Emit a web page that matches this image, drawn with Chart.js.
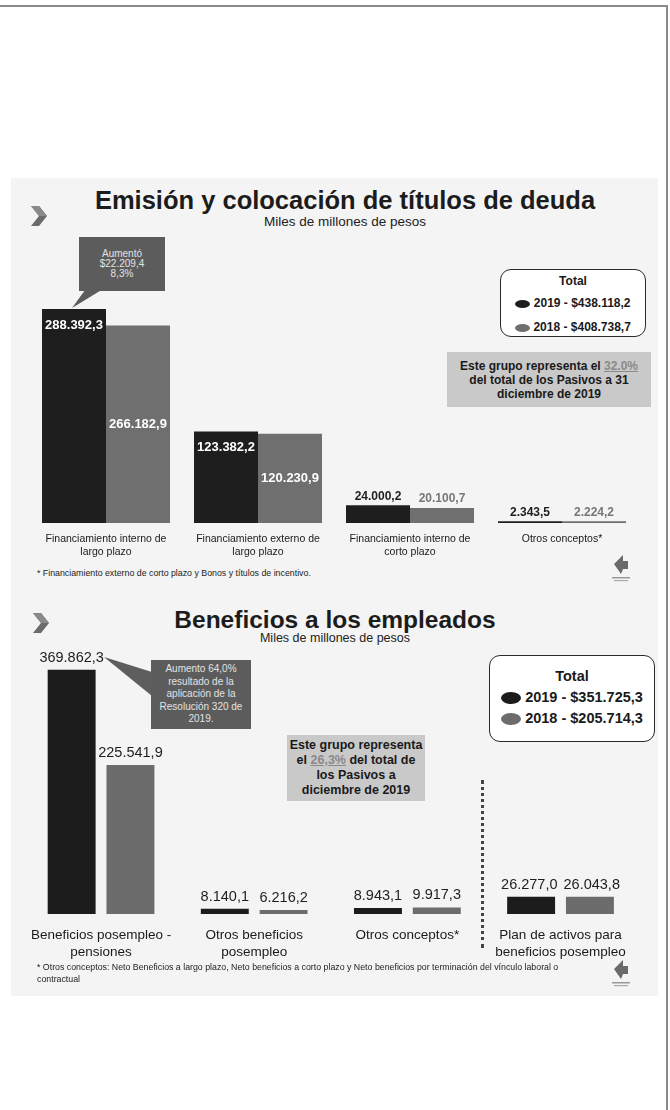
<!DOCTYPE html>
<html><head><meta charset="utf-8">
<script src="https://cdn.jsdelivr.net/npm/chart.js@4.4.1/dist/chart.umd.min.js"></script>
<style>
body{margin:0;width:670px;height:1110px;background:#fff;position:relative;overflow:hidden;font-family:"Liberation Sans",Arial,sans-serif;color:#1a1a1a}
.abs{position:absolute}
.frameTop{left:0;top:5px;width:668px;height:2px;background:#8a8a8a}
.frameRight{left:666px;top:5px;width:2px;height:1105px;background:#8a8a8a}
.slide{left:11px;top:178px;width:647px;height:818px;background:#f4f4f4}
.title{left:0;width:670px;text-align:center;font-weight:bold;font-size:25.5px;color:#1c1c1c;line-height:28px}
.sub{left:0;width:670px;text-align:center;font-size:13.5px;color:#222;line-height:16px}
.callout{background:#5c5c5c;color:#e2e2e2;text-align:center;font-size:10px;line-height:10px;display:flex;flex-direction:column;justify-content:center}
.legend{border:1.5px solid #2a2a2a;border-radius:11px;background:#fff;font-weight:bold;color:#1a1a1a}
.legend .row{position:absolute;left:0;width:100%;text-align:center;white-space:nowrap}
.sw{display:inline-block;vertical-align:middle;border-radius:50%/50%}
.gbox{background:#c9c9c9;font-weight:bold;text-align:center;color:#1a1a1a;display:flex;flex-direction:column;justify-content:center}
.pct{color:#8a8a8a;text-decoration:underline}
.foot{font-size:8.8px;color:#222;line-height:12px;white-space:nowrap}
</style></head>
<body>
<div class="abs frameTop"></div>
<div class="abs frameRight"></div>
<div class="abs slide"></div>

<!-- chart 1 decorations -->
<svg class="abs" style="left:30px;top:205px" width="20" height="22"><polygon points="1,1 9,1 17,11 9,21 1,21 9,11" fill="#6a6a6a"/><polygon points="1,1 9,1 17,11 9,11" fill="#8a8a8a"/></svg>
<div class="abs title" style="top:186px;left:10px">Emisión y colocación de títulos de deuda</div>
<div class="abs sub" style="top:214px;left:10px">Miles de millones de pesos</div>
<svg class="abs" style="left:60px;top:286px" width="60" height="26"><polygon points="28,0 48,0 12,22" fill="#5c5c5c"/></svg>
<div class="abs callout" style="left:79px;top:237px;width:86px;height:54px">Aumentó<br>$22.209,4<br>8,3%</div>
<div class="abs legend" style="left:500px;top:269px;width:144px;height:66px;font-size:12px">
  <div class="row" style="top:4px">Total</div>
  <div class="row" style="top:26px"><span class="sw" style="width:15px;height:8px;background:#1e1e1e"></span> 2019 - $438.118,2</div>
  <div class="row" style="top:50px"><span class="sw" style="width:15px;height:8px;background:#6f6f6f"></span> 2018 - $408.738,7</div>
</div>
<div class="abs gbox" style="left:447px;top:352px;width:204px;height:55px;font-size:12px;line-height:14px">
  <div>Este grupo representa el <span class="pct">32.0%</span><br>del total de los Pasivos a 31<br>diciembre de 2019</div>
</div>
<div class="abs" style="left:30px;top:290px;width:608px;height:267px"><canvas id="c1" width="608" height="267"></canvas></div>
<div class="abs foot" style="left:37px;top:567px">* Financiamiento externo de corto plazo y Bonos y títulos de incentivo.</div>
<svg class="abs" style="left:608px;top:553px" width="26" height="32"><polygon points="6,11 15,2 15,8 20,8 20,16 15,16 13,21" fill="#6a6a6a"/><rect x="4" y="24" width="18" height="1.5" fill="#999"/><rect x="6" y="27" width="14" height="1.2" fill="#aaa"/></svg>

<!-- chart 2 decorations -->
<svg class="abs" style="left:32px;top:612px" width="20" height="22"><polygon points="1,1 9,1 17,11 9,21 1,21 9,11" fill="#6a6a6a"/><polygon points="1,1 9,1 17,11 9,11" fill="#8a8a8a"/></svg>
<div class="abs title" style="top:606px;font-size:24.5px">Beneficios a los empleados</div>
<div class="abs sub" style="top:630px;font-size:12.5px">Miles de millones de pesos</div>
<svg class="abs" style="left:100px;top:652px" width="60" height="50"><polygon points="52,20 52,44 4,5" fill="#5e5e5e"/></svg>
<div class="abs callout" style="left:151px;top:660px;width:100px;height:69px;line-height:12.5px">Aumento 64,0%<br>resultado de la<br>aplicación de la<br>Resolución 320 de<br>2019.</div>
<div class="abs legend" style="left:489px;top:655px;width:164px;height:85px;font-size:14.5px">
  <div class="row" style="top:12px">Total</div>
  <div class="row" style="top:33px"><span class="sw" style="width:20px;height:12px;background:#1c1c1c"></span>&nbsp;2019 - $351.725,3</div>
  <div class="row" style="top:54px"><span class="sw" style="width:20px;height:12px;background:#6c6c6c"></span>&nbsp;2018 - $205.714,3</div>
</div>
<div class="abs gbox" style="left:287px;top:735px;width:138px;height:66px;font-size:12.5px;line-height:15px">
  <div>Este grupo representa<br>el <span class="pct">26,3%</span> del total de<br>los Pasivos a<br>diciembre de 2019</div>
</div>
<div class="abs" style="left:481px;top:780px;width:0;height:168px;border-left:3px dotted #444"></div>
<div class="abs" style="left:18px;top:640px;width:620px;height:324px"><canvas id="c2" width="620" height="324"></canvas></div>
<div class="abs foot" style="left:37px;top:961px">* Otros conceptos: Neto Beneficios a largo plazo, Neto beneficios a corto plazo y Neto beneficios por terminación del vínculo laboral o<br>contractual</div>
<svg class="abs" style="left:608px;top:958px" width="26" height="32"><polygon points="6,11 15,2 15,8 20,8 20,16 15,16 13,21" fill="#6a6a6a"/><rect x="4" y="24" width="18" height="1.5" fill="#999"/><rect x="6" y="27" width="14" height="1.2" fill="#aaa"/></svg>

<script>
// ---- data: chart 1 ----
const debtCategories = [
  ["Financiamiento interno de", "largo plazo"],
  ["Financiamiento externo de", "largo plazo"],
  ["Financiamiento interno de", "corto plazo"],
  ["Otros conceptos*"]
];
const debt2019 = [288392.3, 123382.2, 24000.2, 2343.5];
const debt2018 = [266182.9, 120230.9, 20100.7, 2224.2];

// ---- data: chart 2 ----
const empCategories = [
  ["Beneficios posempleo -", "pensiones"],
  ["Otros beneficios", "posempleo"],
  ["Otros conceptos*"],
  ["Plan de activos para", "beneficios posempleo"]
];
const emp2019 = [369862.3, 8140.1, 8943.1, 26277.0];
const emp2018 = [225541.9, 6216.2, 9917.3, 26043.8];

const seriesNames = ["2019", "2018"];

function fmt(v){
  const s = v.toFixed(1).split('.');
  return s[0].replace(/\B(?=(\d{3})+(?!\d))/g, '.') + ',' + s[1];
}
const FONT = '"Liberation Sans", Arial, sans-serif';

const valueLabels = {
  id: 'valueLabels',
  afterDatasetsDraw(chart, args, opts){
    const ctx = chart.ctx;
    const items = [];
    chart.data.datasets.forEach((ds, di) => {
      const meta = chart.getDatasetMeta(di);
      meta.data.forEach((bar, i) => {
        const st = opts.style(di, bar);
        ctx.font = st.font;
        const txt = fmt(ds.data[i]);
        items.push({di, i, txt, st, x: bar.x, w: ctx.measureText(txt).width});
      });
    });
    // push apart neighbouring labels of the same category if they collide
    const n = chart.data.labels.length;
    for (let i = 0; i < n; i++){
      const a = items.find(t => t.di === 0 && t.i === i);
      const b = items.find(t => t.di === 1 && t.i === i);
      if (!a || !b || Math.abs(a.st.y - b.st.y) > 12) continue;
      const overlap = (a.x + a.w/2) - (b.x - b.w/2) + 6;
      if (overlap > 0){ a.x -= overlap/2; b.x += overlap/2; }
    }
    items.forEach(t => {
      ctx.save();
      ctx.font = t.st.font; ctx.fillStyle = t.st.color;
      ctx.textAlign = 'center'; ctx.textBaseline = 'middle';
      ctx.fillText(t.txt, t.x, t.st.y);
      ctx.restore();
    });
  }
};

function baseOptions(max, tickFont, tickPad, axisH, cp, bp){
  return {
    responsive:false, animation:false, devicePixelRatio:1,
    layout:{padding:0},
    plugins:{legend:{display:false}, tooltip:{enabled:false}},
    datasets:{bar:{categoryPercentage:cp, barPercentage:bp}},
    scales:{
      x:{grid:{display:false, drawTicks:false}, border:{display:false},
         ticks:{font:{family:FONT, size:tickFont, lineHeight:1.22}, color:'#1a1a1a', padding:tickPad, maxRotation:0, autoSkip:false},
         afterFit(a){ a.height = axisH; }},
      y:{display:false, min:0, max:max}
    }
  };
}

const o1 = baseOptions(314000, 10.5, 10, 34, 0.842, 1.0);
o1.plugins.valueLabels = {
  style(di, bar){
    const h = bar.base - bar.y;
    if (h > 40) return {font:'bold 13px '+FONT, color:'#ffffff', y: di===0 ? bar.y + 16 : (bar.y + bar.base)/2};
    return {font:'bold 12px '+FONT, color: di===0 ? '#1e1e1e' : '#777777', y: bar.y - 9};
  }
};
new Chart(document.getElementById('c1'), {
  type:'bar',
  data:{labels:debtCategories, datasets:[
    {label:seriesNames[0], data:debt2019, backgroundColor:'#1e1e1e'},
    {label:seriesNames[1], data:debt2018, backgroundColor:'#6f6f6f'}
  ]},
  options:o1, plugins:[valueLabels]
});

const o2 = baseOptions(415000, 13.5, 13, 50, 0.768, 0.815);
o2.scales.x.ticks.font.lineHeight = 1.26;
o2.plugins.valueLabels = {
  style(di, bar){ return {font:'14.5px '+FONT, color:'#1e1e1e', y: bar.y - 12}; }
};
new Chart(document.getElementById('c2'), {
  type:'bar',
  data:{labels:empCategories, datasets:[
    {label:seriesNames[0], data:emp2019, backgroundColor:'#1c1c1c'},
    {label:seriesNames[1], data:emp2018, backgroundColor:'#6c6c6c'}
  ]},
  options:o2, plugins:[valueLabels]
});
</script>
</body></html>
